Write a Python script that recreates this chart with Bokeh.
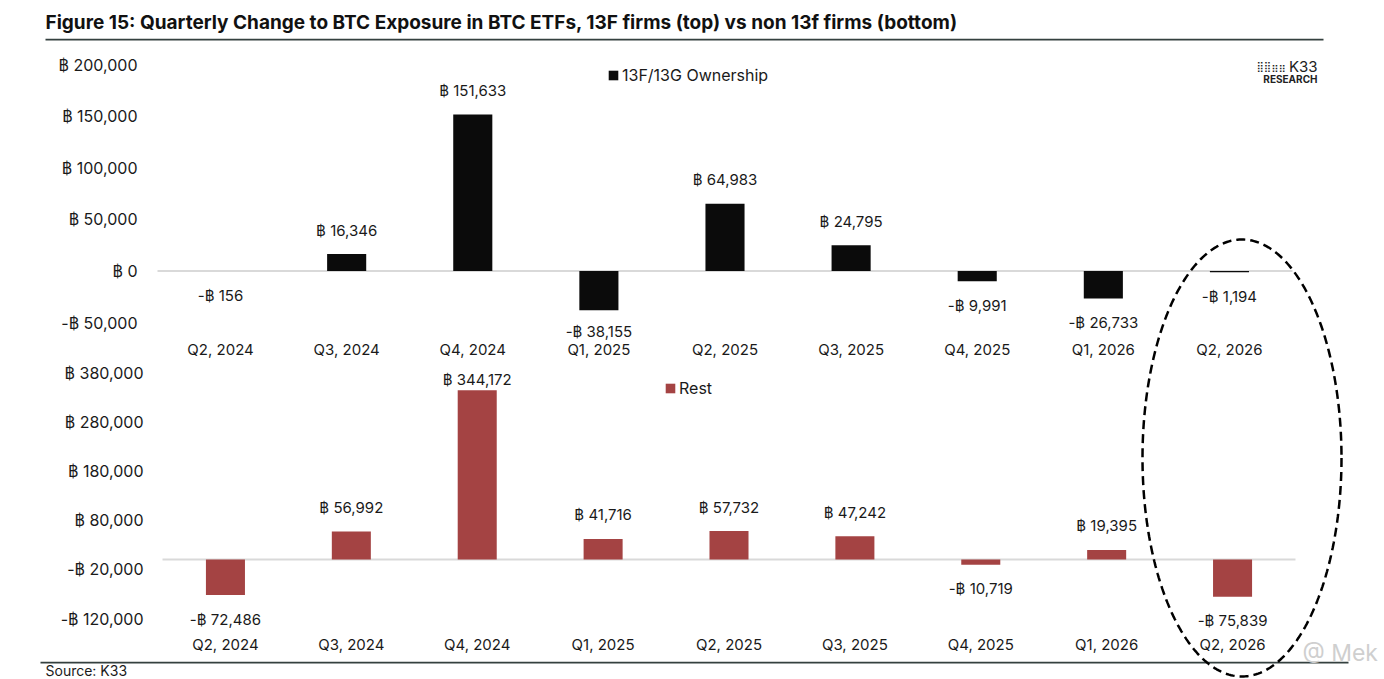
import numpy as np
from bokeh.plotting import figure
from bokeh.models import (ColumnDataSource, FixedTicker, Label, Legend, LegendItem,
                          PolyAnnotation, Range1d, LinearAxis)
from bokeh.embed import file_html
from bokeh.resources import INLINE
from bokeh.core.properties import value

# ---------------- data ----------------
quarters = ["Q2, 2024", "Q3, 2024", "Q4, 2024", "Q1, 2025", "Q2, 2025",
            "Q3, 2025", "Q4, 2025", "Q1, 2026", "Q2, 2026"]
f13_values = [-156, 16346, 151633, -38155, 64983, 24795, -9991, -26733, -1194]
rest_values = [-72486, 56992, 344172, 41716, 57732, 47242, -10719, 19395, -75839]
top_ticks = [-50000, 0, 50000, 100000, 150000, 200000]
bottom_ticks = [-120000, -20000, 80000, 180000, 280000, 380000]
top_series_name = "13F/13G Ownership"
bottom_series_name = "Rest"
title_text = "Figure 15: Quarterly Change to BTC Exposure in BTC ETFs, 13F firms (top) vs non 13f firms (bottom)"
source_text = "Source: K33"

# ---------------- layout (pixel bands of each panel on the page) ----------------
W, H = 1384, 679
TOP_X, TOP_Y = (157, 1292), (64, 322)
BOT_X, BOT_Y = (162, 1295), (372, 618)
FONT = "Inter"
TXT = "#1a1a1a"
ZERO = "#d9d9d9"


def btc(v):
    return ("-" if v < 0 else "") + "\u0E3F " + f"{abs(v):,}"


def x_range_for(band):
    n = len(quarters)
    ppu = (band[1] - band[0]) / n
    return Range1d(-band[0] / ppu, n + (W - band[1]) / ppu)


def y_range_for(band, ticks):
    lo, hi = ticks[0], ticks[-1]
    ppu = (band[1] - band[0]) / (hi - lo)
    return Range1d(lo - (H - band[1]) / ppu, hi + band[0] / ppu), ppu


pos = [i + 0.5 for i in range(len(quarters))]

xr_top = x_range_for(TOP_X)
yr_top, ppu_top = y_range_for(TOP_Y, top_ticks)
xr_bot = x_range_for(BOT_X)
yr_bot, ppu_bot = y_range_for(BOT_Y, bottom_ticks)

p = figure(width=W, height=H, x_range=xr_top, y_range=yr_top, x_axis_type=None,
           y_axis_type=None, output_backend="svg", toolbar_location=None,
           min_border=0, title_location=None)
p.extra_x_ranges = {"b": xr_bot}
p.extra_y_ranges = {"b": yr_bot}
p.outline_line_color = None
p.background_fill_color = "white"
p.border_fill_color = "white"


def draw_panel(values, ticks, color, name, rn, band, ppu, legend_xy, lab_pad):
    kw = {} if rn is None else dict(x_range_name=rn, y_range_name=rn)
    # zero line across the category extent
    p.segment(x0=[0], x1=[len(quarters)], y0=[0], y1=[0], line_color=ZERO, line_width=2, **kw)
    # label offsets: 24px off the bar end, held inside the panel band like the source chart
    offs = []
    hi = ticks[-1]
    for v in values:
        end_px = band[0] + (hi - v) * ppu
        if v >= 0:
            c = max(end_px - 24, band[0] + lab_pad[0])
        else:
            c = min(end_px + 24, band[1] + lab_pad[1])
        offs.append(c - end_px)
    src = ColumnDataSource(dict(x=pos, v=values, lab=[btc(v) for v in values], off=offs))
    r = p.vbar(x="x", top="v", width=0.31, source=src, fill_color=color, line_color=None, **kw)
    p.text(x="x", y="v", text="lab", y_offset="off", source=src, text_align="center",
           text_baseline="middle", text_font=value(FONT), text_font_size="15px",
           text_color=TXT, **kw)

    yax = LinearAxis(ticker=FixedTicker(ticks=ticks),
                     major_label_overrides={t: btc(t) for t in ticks},
                     fixed_location=0, major_label_standoff=band[2], **kw)
    xax = LinearAxis(ticker=FixedTicker(ticks=pos),
                     major_label_overrides={x: q for x, q in zip(pos, quarters)},
                     fixed_location=ticks[0], major_label_standoff=band[3], **kw)
    for ax in (xax, yax):
        ax.axis_line_color = None
        ax.major_tick_line_color = None
        ax.minor_tick_line_color = None
        ax.major_tick_out = 0
        ax.major_tick_in = 0
        ax.minor_tick_out = 0
        ax.major_label_text_font = FONT
        ax.major_label_text_color = TXT
    yax.major_label_text_font_size = "16px"
    xax.major_label_text_font_size = "15px"
    p.add_layout(yax, "left")
    p.add_layout(xax, "below")

    leg = Legend(items=[LegendItem(label=name, renderers=[r])], location=legend_xy,
                 glyph_width=12, glyph_height=12, label_standoff=3, padding=0, margin=0,
                 border_line_alpha=0, background_fill_alpha=0,
                 label_text_font=FONT, label_text_font_size="16px", label_text_color=TXT)
    p.add_layout(leg)


draw_panel(f13_values, top_ticks, "#0b0b0b", top_series_name, None,
           (TOP_Y[0], TOP_Y[1], 20, 17), ppu_top, (607, H - 84.5), (7, 9))
draw_panel(rest_values, bottom_ticks, "#a44343", bottom_series_name, "b",
           (BOT_Y[0], BOT_Y[1], 19, 16), ppu_bot, (664, H - 397.5), (7, 9))

# ---------------- decorations (canvas pixel units) ----------------
def cl(**kw):
    return Label(x_units="canvas", y_units="canvas", **kw)


p.add_layout(cl(x=45, y=22, text=title_text, text_font=FONT, text_font_size="19px",
                text_font_style="bold", text_color="#111111", text_baseline="middle"))
p.add_layout(PolyAnnotation(xs=[45, 1323, 1323, 45], ys=[38.3, 38.3, 39.9, 39.9],
                            xs_units="canvas", ys_units="canvas", fill_color="#34403f",
                            fill_alpha=1, line_alpha=0))
p.add_layout(cl(x=1317, y=66, text="K33", text_font=FONT, text_font_size="15px",
                text_color="#222222", text_align="right", text_baseline="middle"))
p.add_layout(cl(x=1256, y=66, text="\u28FF\u28FF\u28F6\u28F6", text_font="DejaVu Sans",
                text_font_size="10px", text_color="#222222", text_baseline="middle"))
p.add_layout(cl(x=1317, y=78, text="RESEARCH", text_font=FONT, text_font_size="10px",
                text_font_style="bold", text_color="#222222", text_align="right",
                text_baseline="middle"))

p.add_layout(PolyAnnotation(xs=[40, 1348, 1348, 40], ys=[661.3, 661.3, 662.9, 662.9],
                            xs_units="canvas", ys_units="canvas", fill_color="#34403f",
                            fill_alpha=1, line_alpha=0))
p.add_layout(cl(x=45, y=678, text=source_text, text_font=FONT, text_font_size="14px",
                text_color=TXT, text_baseline="bottom"))
p.add_layout(cl(x=1302, y=652, text="@ Mek", text_font=FONT, text_font_size="23px",
                text_color="#cfcfcf", text_baseline="middle"))

# dashed ellipse highlighting the latest quarter
t = np.linspace(0, 2 * np.pi, 300)
p.add_layout(PolyAnnotation(xs=list(1241.5 + 99.5 * np.cos(t)), ys=list(457.5 + 218.5 * np.sin(t)),
                            xs_units="canvas", ys_units="canvas", fill_alpha=0,
                            line_color="black", line_alpha=1, line_width=2.5, line_dash="9 5"))

open("out.html", "w").write(file_html(p, INLINE))
